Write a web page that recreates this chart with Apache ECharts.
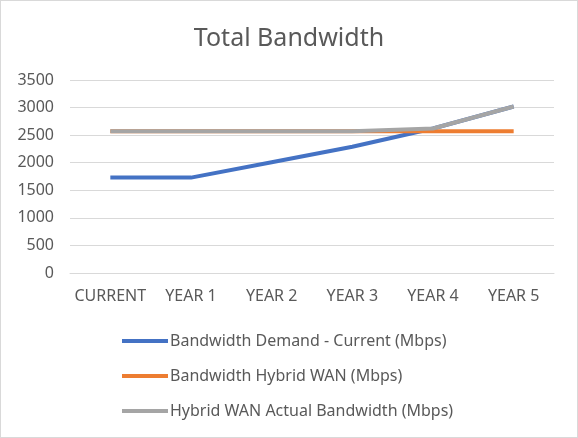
<!DOCTYPE html>
<html><head><meta charset="utf-8">
<script src="https://cdn.jsdelivr.net/npm/echarts@6/dist/echarts.min.js"></script>
<style>html,body{margin:0;padding:0;background:#fff}#c{width:578px;height:438px;box-sizing:border-box;border:1px solid #d9d9d9}</style>
</head><body><div id="c"></div>
<script>
const categories = ["CURRENT","YEAR 1","YEAR 2","YEAR 3","YEAR 4","YEAR 5"];
const demand = [1730,1730,2010,2290,2620,3020];
const hybrid = [2570,2570,2570,2570,2570,2570];
const actual = [2570,2570,2570,2570,2620,3020];
const seriesNames = ["Bandwidth Demand - Current (Mbps)","Bandwidth Hybrid WAN (Mbps)","Hybrid WAN Actual Bandwidth (Mbps)"];
const colors = ["#4472C4","#ED7D31","#A5A5A5"];
const font = "Noto Sans";
const chart = echarts.init(document.getElementById('c'));
const mk = (name, data, color) => ({
  name, type:'line', data, symbol:'none', smooth:false,
  lineStyle:{width:4,color,cap:'butt',join:'round'}, itemStyle:{color}
});
chart.setOption({
  animation:false,
  title:{text:'Total Bandwidth',left:'center',top:20,textStyle:{fontFamily:font,fontSize:25,fontWeight:'normal',color:'#595959'}},
  grid:{left:69,right:23,top:79,bottom:164},
  xAxis:{type:'category',data:categories,boundaryGap:true,
    axisLine:{lineStyle:{color:'#d9d9d9'}},axisTick:{show:false},
    axisLabel:{color:'#595959',fontFamily:font,fontSize:16,margin:15,interval:0}},
  yAxis:{type:'value',min:0,max:3500,interval:500,
    axisLine:{show:false},axisTick:{show:false},
    splitLine:{lineStyle:{color:'#d9d9d9'}},
    axisLabel:{color:'#595959',fontFamily:font,fontSize:16,margin:16,formatter:v=>String(v)}},
  legend:{orient:'vertical',left:116,top:327,itemWidth:46,itemHeight:4,itemGap:19,icon:'rect',
    textStyle:{color:'#595959',fontFamily:font,fontSize:16,padding:[0,0,0,-3]},
    data:seriesNames},
  series:[mk(seriesNames[0],demand,colors[0]),mk(seriesNames[1],hybrid,colors[1]),mk(seriesNames[2],actual,colors[2])]
});
</script></body></html>
